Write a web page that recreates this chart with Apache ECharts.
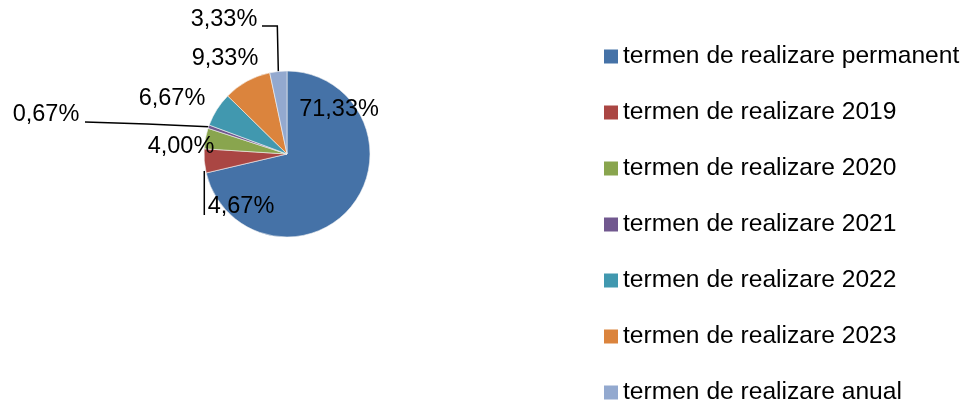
<!DOCTYPE html>
<html>
<head>
<meta charset="utf-8">
<script src="https://cdn.jsdelivr.net/npm/echarts@6/dist/echarts.min.js"></script>
<style>
  html, body { margin: 0; padding: 0; background: #fff; }
  #chart { width: 966px; height: 403px; }
</style>
</head>
<body>
<div id="chart"></div>
<script>
// categorii si numar de masuri (din 150)
const categories = [
  "termen de realizare permanent",
  "termen de realizare 2019",
  "termen de realizare 2020",
  "termen de realizare 2021",
  "termen de realizare 2022",
  "termen de realizare 2023",
  "termen de realizare anual",
];
const values = [107, 7, 6, 1, 10, 14, 5];
const colors = ["#4572A7", "#AA4643", "#89A54E", "#71588F", "#4198AF", "#DB843D", "#93A9CF"];

const CX = 287, CY = 154, R = 83;
const total = values.reduce((a, b) => a + b, 0);

// procent cu virgula, ca in original
const fmtPct = (v) => (v / total * 100).toFixed(2).replace(".", ",") + "%";

// punctul de pe marginea feliei, la unghiul median (sens orar de sus)
const anchorOf = (i) => {
  let before = 0;
  for (let k = 0; k < i; k++) before += values[k];
  const mid = (before + values[i] / 2) / total * Math.PI * 2;
  return [CX + R * Math.sin(mid), CY - R * Math.cos(mid)];
};

// pozitia etichetelor fata de centru
const labelOffset = [
  [52, -44],
  [-46, 53],
  [-106, -7],
  [-241, -39],
  [-115, -55],
  [-62, -95],
  [-63, -134],
];

var myChart = echarts.init(document.getElementById("chart"));
myChart.setOption({
  animation: false,
  color: colors,
  legend: {
    orient: "vertical",
    left: 604,
    top: 44,
    height: 380,
    padding: 0,
    itemWidth: 14,
    itemHeight: 14,
    itemGap: 31,
    icon: "rect",
    itemStyle: { borderWidth: 0 },
    data: categories,
    textStyle: {
      fontFamily: "Liberation Sans",
      fontSize: 24.6,
      color: "#000",
    },
  },
  series: [
    {
      type: "pie",
      center: [CX, CY],
      radius: R,
      startAngle: 90,
      clockwise: true,
      avoidLabelOverlap: false,
      itemStyle: { borderColor: "#f4f4f4", borderWidth: 0.6 },
      label: {
        show: true,
        position: "outside",
        formatter: (p) => fmtPct(p.value),
        fontFamily: "Liberation Sans",
        fontSize: 23.5,
        color: "#000",
      },
      labelLine: {
        show: true,
        length: 5,
        length2: 5,
        smooth: false,
        lineStyle: { color: "#000", width: 1.5 },
      },
      labelLayout: (params) => {
        const i = params.dataIndex;
        const off = labelOffset[i];
        const out = {
          x: CX + off[0],
          y: CY + off[1],
          align: "center",
          verticalAlign: "middle",
          moveOverlap: null,
        };
        const a = anchorOf(i);
        if (i === 1) {
          out.labelLinePoints = [[a[0], a[1] + 10], [a[0], a[1] + 27], [a[0], 215]];
        } else if (i === 3) {
          out.labelLinePoints = [a, [147, 124], [85, 122]];
        } else if (i === 6) {
          out.labelLinePoints = [a, [a[0] - 1, 26], [262, 26]];
        } else {
          out.labelLinePoints = [a, a, a];
        }
        return out;
      },
      data: categories.map((name, i) => ({ name: name, value: values[i] })),
    },
  ],
});
</script>
</body>
</html>
